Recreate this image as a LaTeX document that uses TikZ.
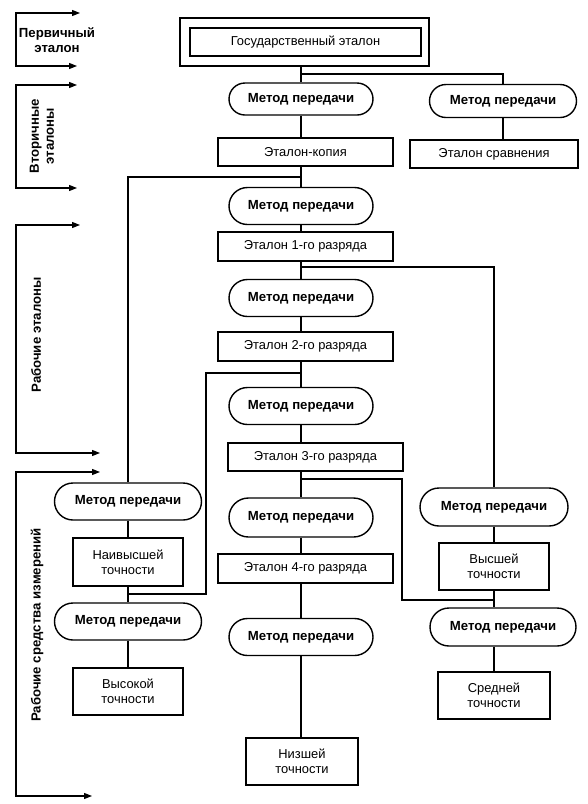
\documentclass[tikz,border=0pt]{standalone}
\usepackage{fontspec}
\setmainfont{Liberation Sans}
\usetikzlibrary{shapes.misc,arrows.meta}
\begin{document}
\begin{tikzpicture}[x=1pt,y=-1pt,
  font=\fontsize{12.9}{15}\selectfont,
  boxst/.style={draw,line width=1.4pt,rectangle,inner sep=1pt,align=center},
  pill/.style={draw,line width=1.4pt,rounded rectangle,inner sep=1pt,minimum width=146pt,minimum height=37pt,font=\fontsize{13.2}{15}\selectfont\bfseries},
  conn/.style={line width=1.05pt},
  brk/.style={line width=1.2pt,{Triangle[length=8pt,width=6pt]}-{Triangle[length=8pt,width=6pt]}},
  lab/.style={font=\fontsize{13.2}{15}\selectfont\bfseries,align=center,inner sep=0pt}
]
\useasboundingbox (0,0) rectangle (587,804);
% main column
\node[boxst,minimum width=249pt,minimum height=48pt] (gosout) at (304.5,42) {};
\node[boxst,minimum width=231pt,minimum height=28pt] (gos) at (305.5,42) {Государственный эталон};
\node[pill,minimum height=32pt] (m1) at (301,99) {Метод передачи};
\node[pill,minimum width=149pt,minimum height=33pt] (mr) at (503,101) {Метод передачи};
\node[boxst,minimum width=175pt,minimum height=28pt] (kop) at (305.5,152) {Эталон-копия};
\node[boxst,minimum width=168pt,minimum height=28pt] (srav) at (494,154) {Эталон сравнения};
\node[pill] (m2) at (301,206) {Метод передачи};
\node[boxst,minimum width=175pt,minimum height=29pt] (r1) at (305.5,246.5) {Эталон 1-го разряда};
\node[pill] (m3) at (301,298) {Метод передачи};
\node[boxst,minimum width=175pt,minimum height=29pt] (r2) at (305.5,346.5) {Эталон 2-го разряда};
\node[pill] (m4) at (301,406) {Метод передачи};
\node[boxst,minimum width=175pt,minimum height=28pt] (r3) at (315.5,457) {Эталон 3-го разряда};
\node[pill,minimum height=39pt] (m5) at (301,517.5) {Метод передачи};
\node[boxst,minimum width=175pt,minimum height=29pt] (r4) at (305.5,568.5) {Эталон 4-го разряда};
\node[pill] (m6) at (301,637) {Метод передачи};
\node[boxst,minimum width=112pt,minimum height=47pt] (niz) at (302,761.5) {Низшей\\точности};
% left column
\node[pill,minimum width=149pt] (L1) at (128,501.5) {Метод передачи};
\node[boxst,minimum width=110pt,minimum height=48pt] (naiv) at (128,562) {Наивысшей\\точности};
\node[pill,minimum width=149pt] (L2) at (128,621.5) {Метод передачи};
\node[boxst,minimum width=110pt,minimum height=47pt] (vys) at (128,691.5) {Высокой\\точности};
% right column
\node[pill,minimum width=150pt,minimum height=38pt] (R1) at (494,507) {Метод передачи};
\node[boxst,minimum width=110pt,minimum height=47pt] (vyssh) at (494,566.5) {Высшей\\точности};
\node[pill,minimum width=148pt,minimum height=38pt] (R2) at (503,627) {Метод передачи};
\node[boxst,minimum width=112pt,minimum height=47pt] (sred) at (494,695.5) {Средней\\точности};
% junctions
\coordinate (j0) at (301,74);
\coordinate (j1) at (301,177);
\coordinate (j2) at (301,267);
\coordinate (j3) at (301,373);
\coordinate (k3) at (206,594);
\coordinate (j4) at (301,479);
\coordinate (k4) at (402,600);
% connectors
\draw[conn] (m1.north |- gosout.south) -- (m1.north);
\draw[conn] (j0) -| (mr.north);
\draw[conn] (m1.south) -- (m1.south |- kop.north);
\draw[conn] (mr.south) -- (mr.south |- srav.north);
\draw[conn] (m2.north |- kop.south) -- (m2.north);
\draw[conn] (j1) -| (L1.north);
\draw[conn] (m2.south) -- (m2.south |- r1.north);
\draw[conn] (m3.north |- r1.south) -- (m3.north);
\draw[conn] (j2) -| (R1.north);
\draw[conn] (m3.south) -- (m3.south |- r2.north);
\draw[conn] (m4.north |- r2.south) -- (m4.north);
\draw[conn] (j3) -| (k3) -- (k3 -| naiv.south);
\draw[conn] (m4.south) -- (m4.south |- r3.north);
\draw[conn] (m5.north |- r3.south) -- (m5.north);
\draw[conn] (j4) -| (k4) -- (k4 -| vyssh.south);
\draw[conn] (m5.south) -- (m5.south |- r4.north);
\draw[conn] (m6.north |- r4.south) -- (m6.north);
\draw[conn] (m6.south) -- (m6.south |- niz.north);
\draw[conn] (L1.south) -- (naiv.north);
\draw[conn] (naiv.south) -- (L2.north);
\draw[conn] (L2.south) -- (vys.north);
\draw[conn] (R1.south) -- (vyssh.north);
\draw[conn] (vyssh.south) -- (vyssh.south |- R2.north);
\draw[conn] (R2.south -| sred.north) -- (sred.north);
% left brackets
\coordinate (a1) at (80,13); \coordinate (b1) at (77,66);
\draw[brk] (a1) -- (16,13) -- (16,66) -- (b1);
\node[lab] (t1) at (57,40) {Первичный\\эталон};
\coordinate (a2) at (77,85); \coordinate (b2) at (77,188);
\draw[brk] (a2) -- (16,85) -- (16,188) -- (b2);
\node[lab,rotate=90] (t2) at (42,136) {Вторичные\\эталоны};
\coordinate (a3) at (80,225); \coordinate (b3) at (100,453);
\draw[brk] (a3) -- (16,225) -- (16,453) -- (b3);
\node[lab,rotate=90] (t3) at (36,335) {Рабочие эталоны};
\coordinate (a4) at (100,472); \coordinate (b4) at (92,796);
\draw[brk] (a4) -- (16,472) -- (16,796) -- (b4);
\node[lab,rotate=90] (t4) at (37,625) {Рабочие средства измерений};
\end{tikzpicture}
\end{document}
